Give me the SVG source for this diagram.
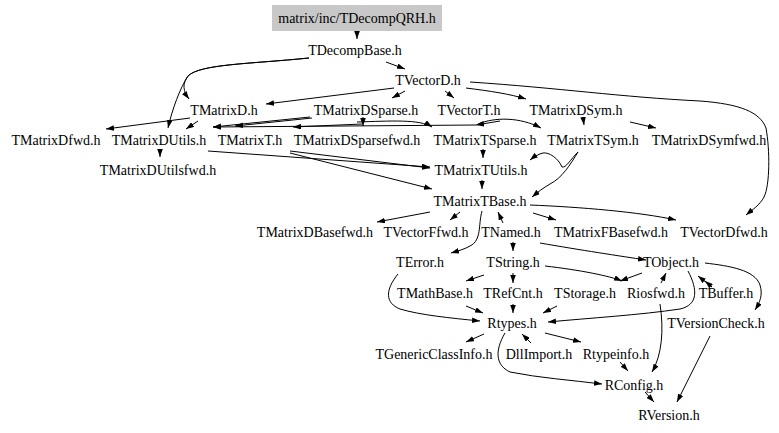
<svg xmlns="http://www.w3.org/2000/svg" width="779" height="433" viewBox="0 0 779 433">
<defs>
<marker id="ah" viewBox="0 0 10 7" refX="10" refY="3.5" markerWidth="8" markerHeight="5.6" markerUnits="userSpaceOnUse" orient="auto">
<path d="M0,0 L10,3.5 L0,7 z" fill="#000"/>
</marker>
<style>
text{font-family:"Liberation Serif","Times New Roman",serif;font-size:14px;fill:#000;text-anchor:middle}
.e path{fill:none;stroke:#000;stroke-width:1;marker-end:url(#ah)}
</style>
</defs>
<rect width="779" height="433" fill="#fff"/>
<g class="e" id="edges">
<path d="M357,31 L357,39"/>
<path d="M386,62 L405,69"/>
<path d="M309,58 C250,64 200,64 188,76 C182,84 183,91 189,99"/>
<path d="M309,58 C250,64 200,64 188,76 C180,88 172,110 168,128"/>
<path d="M394,88 L266,104"/>
<path d="M405,91 L392,98"/>
<path d="M445,91 L454,98"/>
<path d="M466,88 C490,91 510,94 526,99"/>
<path d="M470,82 C560,88 620,97 700,101 C740,104 760,112 766,128 C770,150 770,185 764,197 C760,205 752,210 746,215"/>
<path d="M190,118 L106,129"/>
<path d="M198,121 L186,129"/>
<path d="M310,117 L213,127"/>
<path d="M312,118 L235,126"/>
<path d="M476,125 L213,127"/>
<path d="M362,124 L293,127"/>
<path d="M363,117 L363,126"/>
<path d="M357,122 C390,121 420,119 432,127"/>
<path d="M500,121 L476,125"/>
<path d="M478,124 C495,117 520,117 541,128"/>
<path d="M583,117 L584,125"/>
<path d="M630,122 L656,128"/>
<path d="M160,149 L160,157"/>
<path d="M208,151 L430,167"/>
<path d="M290,151 L430,168"/>
<path d="M290,153 L432,189"/>
<path d="M483,149 L483,158"/>
<path d="M578,152 C570,160 566,168 562,167 C558,158 549,152 543,153 C539,154 535,156 530,160"/>
<path d="M578,152 C570,165 562,178 550,184 C543,188 538,192 532,197"/>
<path d="M482,180 L482,189"/>
<path d="M430,212 L377,222"/>
<path d="M460,212 L450,220"/>
<path d="M482,211 C478,225 482,240 470,246 C465,249 458,251 451,253"/>
<path d="M503,223 L498,212"/>
<path d="M533,213 L556,220"/>
<path d="M530,205 C580,207 640,212 676,220"/>
<path d="M513,242 L513,251"/>
<path d="M540,243 C580,250 620,256 646,260"/>
<path d="M398,274 C385,290 385,303 400,309 C420,315 450,318 480,321"/>
<path d="M484,275 L466,281"/>
<path d="M513,273 L513,283"/>
<path d="M545,266 C580,270 610,276 622,281"/>
<path d="M642,273 L620,281"/>
<path d="M661,283 L666,273"/>
<path d="M688,271 C698,290 698,305 680,309 C640,315 590,318 548,322"/>
<path d="M712,287 L698,276"/>
<path d="M712,287 L705,281"/>
<path d="M705,263 C730,266 755,270 760,285 C763,295 760,302 755,310"/>
<path d="M466,306 L483,313"/>
<path d="M513,304 L513,313"/>
<path d="M557,306 L543,313"/>
<path d="M660,304 C664,330 662,355 652,372"/>
<path d="M484,334 L466,342"/>
<path d="M531,343 L522,334"/>
<path d="M545,333 L581,342"/>
<path d="M505,333 C495,350 495,365 510,372 C540,378 570,380 602,384"/>
<path d="M620,362 L628,371"/>
<path d="M710,336 L677,402"/>
<path d="M645,392 L654,402"/>
</g>
<g id="n_TDecompQRH"><rect x="272" y="5" width="170" height="26" fill="#c8c8c8"/><text x="357" y="23">matrix/inc/TDecompQRH.h</text></g>
<g id="n_TDecompBase"><text x="355" y="55">TDecompBase.h</text></g>
<g id="n_TVectorD"><text x="428" y="85">TVectorD.h</text></g>
<g id="n_TMatrixD"><text x="224" y="115">TMatrixD.h</text></g>
<g id="n_TMatrixDSparse"><text x="366" y="115">TMatrixDSparse.h</text></g>
<g id="n_TVectorT"><text x="469" y="115">TVectorT.h</text></g>
<g id="n_TMatrixDSym"><text x="576" y="115">TMatrixDSym.h</text></g>
<g id="n_TMatrixDfwd"><text x="56" y="145">TMatrixDfwd.h</text></g>
<g id="n_TMatrixDUtils"><text x="159" y="145">TMatrixDUtils.h</text></g>
<g id="n_TMatrixT"><text x="250" y="145">TMatrixT.h</text></g>
<g id="n_TMatrixDSparsefwd"><text x="357" y="145">TMatrixDSparsefwd.h</text></g>
<g id="n_TMatrixTSparse"><text x="485" y="145">TMatrixTSparse.h</text></g>
<g id="n_TMatrixTSym"><text x="593" y="145">TMatrixTSym.h</text></g>
<g id="n_TMatrixDSymfwd"><text x="709" y="145">TMatrixDSymfwd.h</text></g>
<g id="n_TMatrixDUtilsfwd"><text x="158" y="175">TMatrixDUtilsfwd.h</text></g>
<g id="n_TMatrixTUtils"><text x="481" y="175">TMatrixTUtils.h</text></g>
<g id="n_TMatrixTBase"><text x="480" y="206">TMatrixTBase.h</text></g>
<g id="n_TMatrixDBasefwd"><text x="315" y="237">TMatrixDBasefwd.h</text></g>
<g id="n_TVectorFfwd"><text x="426" y="237">TVectorFfwd.h</text></g>
<g id="n_TNamed"><text x="511" y="237">TNamed.h</text></g>
<g id="n_TMatrixFBasefwd"><text x="611" y="237">TMatrixFBasefwd.h</text></g>
<g id="n_TVectorDfwd"><text x="724" y="237">TVectorDfwd.h</text></g>
<g id="n_TError"><text x="420" y="267">TError.h</text></g>
<g id="n_TString"><text x="513" y="267">TString.h</text></g>
<g id="n_TObject"><text x="671" y="267">TObject.h</text></g>
<g id="n_TMathBase"><text x="435" y="298">TMathBase.h</text></g>
<g id="n_TRefCnt"><text x="513" y="298">TRefCnt.h</text></g>
<g id="n_TStorage"><text x="585" y="298">TStorage.h</text></g>
<g id="n_Riosfwd"><text x="656" y="298">Riosfwd.h</text></g>
<g id="n_TBuffer"><text x="726" y="298">TBuffer.h</text></g>
<g id="n_Rtypes"><text x="512" y="328">Rtypes.h</text></g>
<g id="n_TVersionCheck"><text x="716" y="328">TVersionCheck.h</text></g>
<g id="n_TGenericClassInfo"><text x="434" y="359">TGenericClassInfo.h</text></g>
<g id="n_DllImport"><text x="539" y="359">DllImport.h</text></g>
<g id="n_Rtypeinfo"><text x="616" y="359">Rtypeinfo.h</text></g>
<g id="n_RConfig"><text x="634" y="390">RConfig.h</text></g>
<g id="n_RVersion"><text x="669" y="420">RVersion.h</text></g>
</svg>
